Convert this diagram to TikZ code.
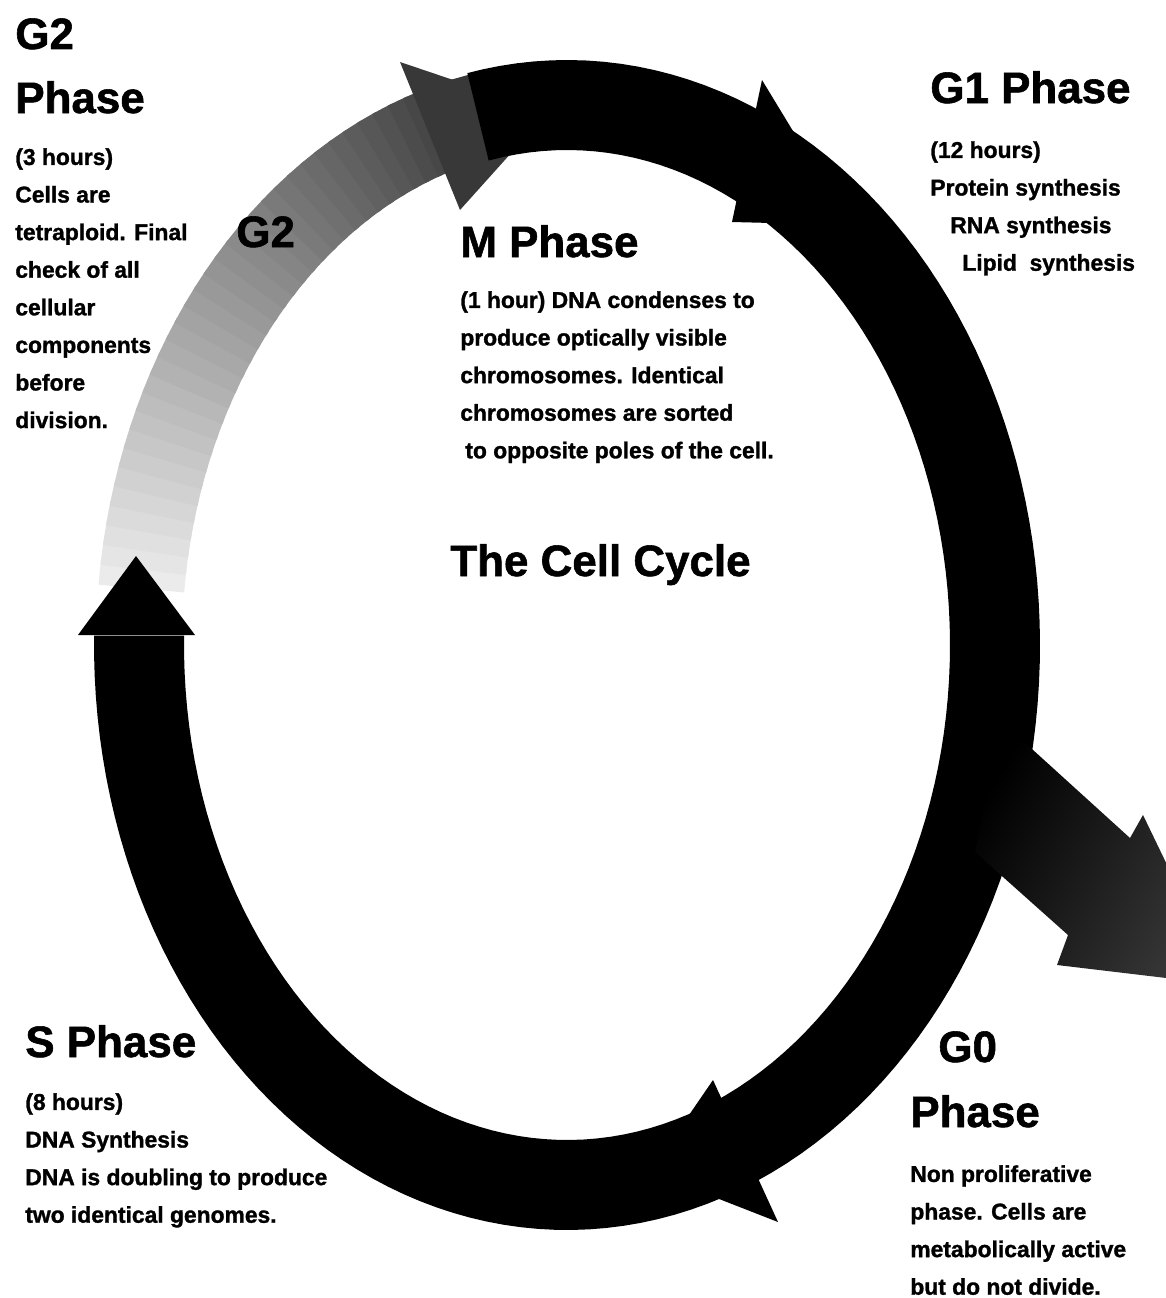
\documentclass[tikz,border=0pt]{standalone}
\usepackage{fontspec}
\setmainfont{Liberation Sans}[BoldFeatures={FakeBold=1.3}]
\usetikzlibrary{positioning}

\begin{document}
\begin{tikzpicture}[
  x=0.02cm, y=-0.02cm,
  ring/.style={line width=1.8cm, draw=black},
  barb/.style={fill=black},
  head/.style={font=\fontsize{25}{30}\selectfont\bfseries, inner sep=0pt, anchor=base west},
  body/.style={font=\fontsize{13}{21.4}\selectfont\bfseries, inner sep=0pt,
               align=left, anchor=north west}
]
\useasboundingbox (0,0) rectangle (1166,1298);
\clip (0,0) rectangle (1166,1298);

% G2 arc, pale near S, dark near M
\foreach \a in {186,188,...,258}{
  \pgfmathsetmacro{\gv}{8+(\a-186)*1.0}
  \draw[line width=1.72cm, draw=black!\gv]
    plot[variable=\t, domain=\a:\a+2.6, samples=4] ({567+428*cos(\t)},{645+540*sin(\t)});
}
\fill[black!78] (400,62) -- (548,112) -- (460,210) -- cycle;

% the cycle
\draw[ring] plot[variable=\t, domain=-102:181, samples=140] ({567+428*cos(\t)},{645+540*sin(\t)});

% arrow heads on the ring
\fill[barb] (762,80) -- (850,225) -- (732,222) -- cycle;
\fill[barb] (713,1080) -- (650,1172) -- (778,1222) -- cycle;
\fill[barb] (78,635) -- (136,556) -- (195,635) -- cycle;

% exit to G0
\shade[left color=black, right color=black!78, shading angle=60]
  (1000,720) -- (1130,838) -- (1143,815) -- (1225,985) -- (1057,965)
  -- (1068,935) -- (975,852) -- cycle;

\node[head] (g2lbl) at (236,247) {G2};

\node[head] (g2head) at (15,49) {G2};
\node[head] (g2phase) at (15,113) {Phase};
\node[body] (g2text) at (15,148) {(3 hours)\\Cells are\\tetraploid. Final\\check of all\\cellular\\components\\before\\division.};

\node[head] (g1head) at (930,103) {G1 Phase};
\node[body] (g1text) at (930,141) {(12 hours)\\Protein synthesis\\\hspace*{0.4cm}RNA synthesis\\\hspace*{0.64cm}Lipid\ \ synthesis};

\node[head] (mhead) at (460,257) {M Phase};
\node[body] (mtext) at (460,291) {(1 hour) DNA condenses to\\produce optically visible\\chromosomes. Identical\\chromosomes are sorted\\\hspace*{0.1cm}to opposite poles of the cell.};

\node[head] (cycle) at (450,576) {The Cell Cycle};

\node[head] (shead) at (25,1057) {S Phase};
\node[body] (stext) at (25,1093) {(8 hours)\\DNA Synthesis\\DNA is doubling to produce\\two identical genomes.};

\node[head] (g0head) at (938,1062) {G0};
\node[head] (g0phase) at (910,1127) {Phase};
\node[body] (g0text) at (910,1165) {Non proliferative\\phase. Cells are\\metabolically active\\but do not divide.};
\end{tikzpicture}
\end{document}
